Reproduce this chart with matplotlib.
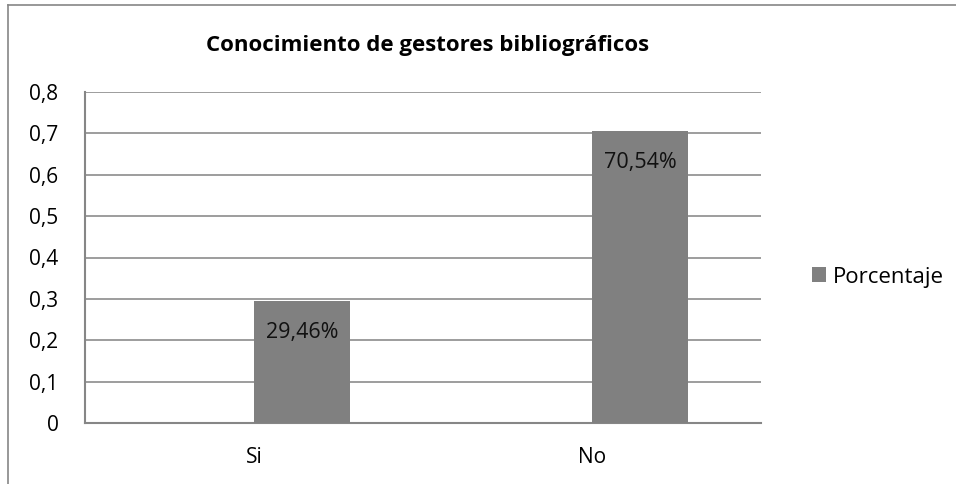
import numpy as np
import matplotlib
matplotlib.use('Agg')
import matplotlib.pyplot as plt
from matplotlib.lines import Line2D

categories = ['Si', 'No']
porcentaje = [0.2946, 0.7054]
labels = ['29,46%', '70,54%']
yticks = [0, 0.1, 0.2, 0.3, 0.4, 0.5, 0.6, 0.7, 0.8]
ytick_labels = ['0', '0,1', '0,2', '0,3', '0,4', '0,5', '0,6', '0,7', '0,8']

plt.rcParams['font.family'] = ['Open Sans', 'DejaVu Sans']

W, H = 956, 484
fig = plt.figure(figsize=(W / 100, H / 100), dpi=100)
ax = fig.add_axes([85 / W, 1 - 423 / H, (761 - 85) / W, (423 - 92) / H])

x = np.arange(len(categories))
bars = ax.bar(x, porcentaje, width=0.284, align='edge', color='#808080',
              zorder=3, label='Porcentaje')

for b, lab in zip(bars, labels):
    ax.annotate(lab, (b.get_x() + b.get_width() / 2, b.get_height()),
                xytext=(0, -31), textcoords='offset pixels',
                ha='center', va='center', fontsize=15.5, color='#111111', zorder=4)

ax.set_xlim(-0.5, 1.5)
ax.set_ylim(0, 0.8)
ax.set_yticks(yticks)
ax.set_yticklabels(ytick_labels, fontsize=15)
ax.set_xticks(x)
ax.set_xticklabels(categories, fontsize=15)
ax.tick_params(axis='both', length=0, colors='#000000')
ax.tick_params(axis='y', pad=19)
ax.tick_params(axis='x', pad=17)
ax.grid(axis='y', color='#8c8c8c', linewidth=1.2, zorder=0)
for s in ['top', 'right']:
    ax.spines[s].set_visible(False)
for s in ['left', 'bottom']:
    ax.spines[s].set_color('#868686')
    ax.spines[s].set_linewidth(1.5)

fig.text(428 / W, 1 - 46 / H, 'Conocimiento de gestores bibliográficos',
         ha='center', va='center', fontsize=16, fontweight='bold')

ax.legend(loc='center left', bbox_to_anchor=(792 / W, 1 - 277 / H),
          bbox_transform=fig.transFigure, frameon=False, fontsize=16,
          handlelength=0.65, handleheight=0.65, handletextpad=0.3)

# outer chart border
fig.add_artist(Line2D([8 / W, 8 / W], [0, 1 - 5 / H], transform=fig.transFigure,
                      color='#868686', linewidth=1.2))
fig.add_artist(Line2D([8 / W, 1], [1 - 5 / H, 1 - 5 / H], transform=fig.transFigure,
                      color='#868686', linewidth=1.2))

fig.savefig('out.png', dpi=100, facecolor='white')
